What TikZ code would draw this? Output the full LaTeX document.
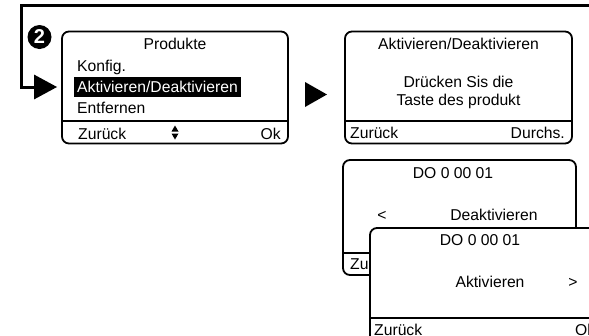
\documentclass[tikz,border=0pt]{standalone}
\usepackage{fontspec}
\setmainfont{Liberation Sans}
\usetikzlibrary{arrows.meta, positioning}
\tikzstyle{screen} = [rectangle, rounded corners=7pt, draw=black, line width=1.8pt,
           fill=white, minimum width=226pt, minimum height=112pt, inner sep=0pt]
\tikzstyle{lcd} = [inner sep=0pt, text height=11.4pt, text depth=0pt,
           font=\fontsize{15.7}{18}\selectfont]
\tikzstyle{divider} = [line width=1.8pt]
\tikzstyle{loop} = [line width=3pt, -{Triangle[length=23pt, width=24pt]}]
\begin{document}
\begin{tikzpicture}[x=1pt, y=-1pt]
\useasboundingbox (0,0) rectangle (589,335);
\clip (0,0) rectangle (589,335);
% back loop into the first screen
\node (step2) [circle, fill=black, minimum size=24pt, inner sep=0pt, text=white,
   font=\bfseries\fontsize{20}{20}\selectfont] at (39.5,37) {2};
\node (produkte) [screen] at (175,87.5) {};
\coordinate (loopstart) at (600,5.5);
\draw [loop] (loopstart) -- (21.5,5.5) -- (21.5,87) -- ([xshift=-4pt]produkte.west |- 0,87);
\draw [divider] (produkte.west |- 0,121) -- (produkte.east |- 0,121);
\node (produktetitle) [lcd] at (175,43.5) {Produkte};
\node (konfig) [lcd, anchor=west] at (77,66) {Konfig.};
\node (selitem) [lcd, fill=black, text=white, inner xsep=3pt, inner ysep=4.3pt,
   anchor=west] at (74,87) {Aktivieren/Deaktivieren};
\node (entfernen) [lcd, anchor=west] at (77,107.5) {Entfernen};
\node (back1) [lcd, anchor=west] at (78,134) {Zurück};
\node (ok1) [lcd, anchor=east] at (281,134) {Ok};
\fill (175,125.5) -- (178.5,131.5) -- (171.5,131.5) -- cycle;
\fill (171.5,133.5) -- (178.5,133.5) -- (175,139.5) -- cycle;
% pointer to the next screen
\fill (305,82) -- (327,94.5) -- (305,107) -- cycle;
\node (aktiv) [screen, minimum width=227pt] at (458.5,87.5) {};
\draw [divider] (aktiv.west |- 0,121) -- (aktiv.east |- 0,121);
\node (aktivtitle) [lcd] at (458.5,43.5) {Aktivieren/Deaktivieren};
\node (press1) [lcd] at (458.5,82) {Drücken Sis die};
\node (press2) [lcd] at (458.5,100) {Taste des produkt};
\node (back2) [lcd, anchor=west] at (350,133) {Zurück};
\node (browse) [lcd, anchor=east] at (565,133) {Durchs.};
% product screens
\node (deakt) [screen, minimum width=233pt, minimum height=115pt] at (459.5,217.5) {};
\draw [divider] (deakt.west |- 0,253) -- (deakt.east |- 0,253);
\node (deakttitle) [lcd] at (453,173) {DO 0 00 01};
\node (prev) [lcd] at (382,215) {<};
\node (deaktstate) [lcd] at (494,215) {Deaktivieren};
\node (back3) [lcd, anchor=west] at (350,264) {Zurück};
\node (akt) [screen, minimum width=233pt, minimum height=115pt] at (486.5,285.5) {};
\draw [divider] (akt.west |- 0,318) -- (akt.east |- 0,318);
\node (akttitle) [lcd] at (480,240) {DO 0 00 01};
\node (aktstate) [lcd] at (490,282) {Aktivieren};
\node (next) [lcd] at (573,282) {>};
\node (back4) [lcd, anchor=west] at (374,330) {Zurück};
\node (ok4) [lcd, anchor=west] at (575,330) {Ok};
\end{tikzpicture}
\end{document}
